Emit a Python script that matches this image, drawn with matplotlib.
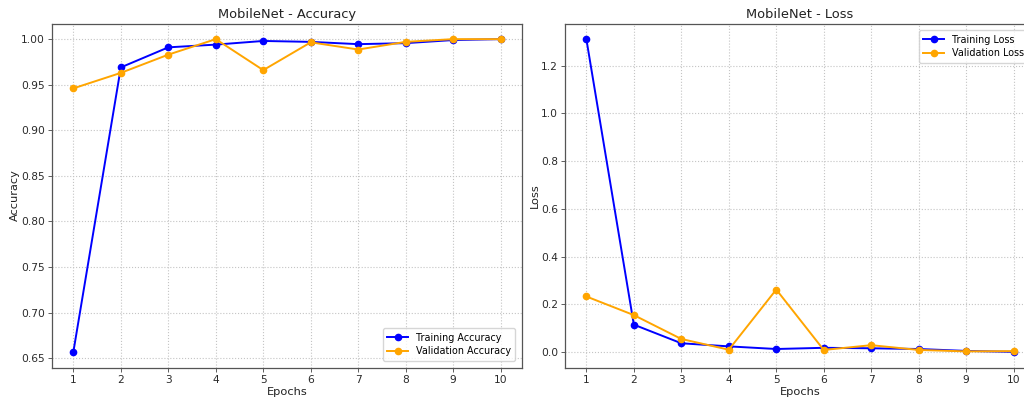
import matplotlib
matplotlib.use("Agg")
import matplotlib.pyplot as plt

epochs = [1, 2, 3, 4, 5, 6, 7, 8, 9, 10]
train_acc = [0.657, 0.969, 0.991, 0.994, 0.998, 0.997, 0.9945, 0.9956, 0.999, 1.000]
val_acc = [0.946, 0.963, 0.983, 1.000, 0.966, 0.9965, 0.9886, 0.997, 1.000, 1.000]
train_loss = [1.311, 0.115, 0.037, 0.024, 0.013, 0.018, 0.016, 0.013, 0.005, 0.001]
val_loss = [0.233, 0.155, 0.055, 0.010, 0.262, 0.009, 0.029, 0.009, 0.003, 0.004]

plt.rcParams['font.family'] = ['DejaVu Sans']
fs_tick = 7.7
fs_legend = 6.9
fs_label = 8.2
fs_title = 9.4

fig = plt.figure(figsize=(10.24, 4.01), dpi=100)
W, H = 1024, 401
def rect(x0, y0, x1, y1):
    return [x0 / W, 1 - y1 / H, (x1 - x0) / W, (y1 - y0) / H]

ax1 = fig.add_axes(rect(52, 23.5, 522, 367.5))
ax2 = fig.add_axes(rect(565, 23.5, 1035, 367.5))

lw = 1.4
ms = 4.5

def style(ax):
    ax.grid(True, linestyle=':', color='#c4c4c4', linewidth=0.8)
    ax.set_xticks(epochs)
    ax.tick_params(labelsize=fs_tick, length=2.6, width=0.6, color='#444444', labelcolor='#2a2a2a', pad=2.5)
    for s in ax.spines.values():
        s.set_color('#555555')
        s.set_linewidth(0.9)

ax1.plot(epochs, train_acc, color='blue', marker='o', lw=lw, ms=ms, label='Training Accuracy')
ax1.plot(epochs, val_acc, color='orange', marker='o', lw=lw, ms=ms, label='Validation Accuracy')
ax1.set_title('MobileNet - Accuracy', fontsize=fs_title, color='#222222', pad=4)
ax1.set_xlabel('Epochs', fontsize=fs_label, color='#222222', labelpad=1.5)
ax1.set_ylabel('Accuracy', fontsize=fs_label, color='#222222', labelpad=0.5)
ax1.legend(loc='lower right', fontsize=fs_legend, handlelength=2.2, borderpad=0.45,
           labelspacing=0.4, borderaxespad=0.7)
style(ax1)

ax2.plot(epochs, train_loss, color='blue', marker='o', lw=lw, ms=ms, label='Training Loss')
ax2.plot(epochs, val_loss, color='orange', marker='o', lw=lw, ms=ms, label='Validation Loss')
ax2.set_title('MobileNet - Loss', fontsize=fs_title, color='#222222', pad=4)
ax2.set_xlabel('Epochs', fontsize=fs_label, color='#222222', labelpad=1.5)
ax2.set_ylabel('Loss', fontsize=fs_label, color='#222222', labelpad=0.5)
ax2.legend(loc='upper right', fontsize=fs_legend, handlelength=2.2, borderpad=0.45,
           labelspacing=0.4, borderaxespad=0.7)
style(ax2)

fig.savefig('out.png', dpi=100)
